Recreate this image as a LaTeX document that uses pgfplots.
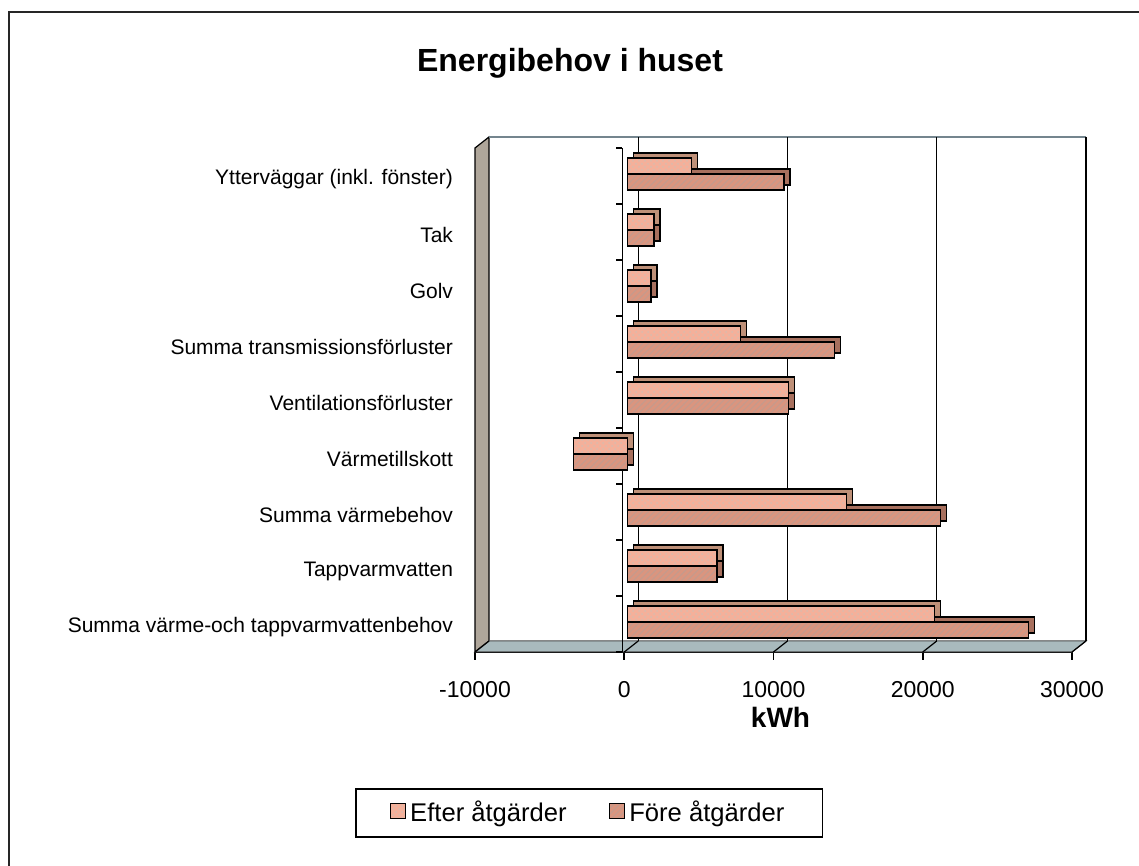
\documentclass[border=0pt]{standalone}
\usepackage{pgfplots}
\pgfplotsset{compat=1.18}
\usetikzlibrary{patterns}
\usepackage{fontspec}
\setmainfont{Liberation Sans}
\definecolor{efterF}{HTML}{F4B09A}
\definecolor{foreF}{HTML}{DA957F}
\definecolor{efterB}{HTML}{BE9078}
\definecolor{foreB}{HTML}{A8705E}
\definecolor{wallC}{HTML}{AFA69A}
\definecolor{floorC}{HTML}{A9BABD}
\pgfplotstableread{
y efter fore
8 4300 10500
7 1800 1800
6 1600 1600
5 7600 13900
4 10800 10800
3 -3600 -3600
2 14700 21000
1 6000 6000
0 20600 26900
}\datatab
\begin{document}
\begin{tikzpicture}
\useasboundingbox (0pt,0pt) rectangle (569.5pt,433pt);
\fill[white] (0pt,0pt) rectangle (569.5pt,433pt);
\draw[line width=1.2pt, black!85] (4.5pt,-2pt) -- (4.5pt,427pt) -- (575pt,427pt);
\node[font=\fontsize{16}{19}\selectfont\bfseries] at (285pt,401.5pt) {Energibehov i huset};
\begin{axis}[
  at={(237.5pt,107pt)}, anchor=south west,
  scale only axis, width=298.5pt, height=252pt,
  xmin=-10000, xmax=30000, ymin=-0.5, ymax=8.5,
  scaled x ticks=false,
  axis x line*=bottom, axis y line*=left,
  x axis line style={-, line width=0.8pt},
  y axis line style={draw=none},
  xtick={-10000,0,10000,20000,30000},
  xticklabels={-10000,0,10000,20000,30000},
  xtick align=outside, major tick length=4pt,
  xtick style={black, line width=0.8pt},
  ytick={0,...,8},
  yticklabels={Summa värme-och tappvarmvattenbehov, Tappvarmvatten, Summa värmebehov, Värmetillskott, Ventilationsförluster, Summa transmissionsförluster, Golv, Tak, Ytterväggar (inkl. fönster)},
  ytick style={draw=none},
  yticklabel style={font=\fontsize{10.5}{12}\selectfont, anchor=east, xshift=-3.5pt, yshift=-1.5pt},
  xticklabel style={font=\fontsize{11.5}{13}\selectfont, yshift=-7pt},
  xlabel={kWh}, xlabel style={font=\fontsize{14}{16}\selectfont\bfseries, xshift=3.5pt, yshift=2pt},
  xbar, bar width=8pt,
  clip=false,
  legend columns=2,
  legend style={at={(0.191,-0.3194)}, anchor=center, draw=black, line width=0.9pt,
    font=\fontsize{12.8}{15}\selectfont, inner xsep=17pt, inner ysep=4pt,
    /tikz/every even column/.append style={column sep=19pt}},
  legend image code/.code={\draw[#1, line width=0.8pt] (0pt,-3.75pt) rectangle (7.5pt,3.75pt);},
]
% walls
\fill[wallC, draw=black, line width=0.6pt] (axis cs:-10000,-0.5) -- (axis cs:-10000,8.5) -- ([xshift=7pt,yshift=5.5pt]axis cs:-10000,8.5) -- ([xshift=7pt,yshift=5.5pt]axis cs:-10000,-0.5) -- cycle;
\fill[floorC, draw=black!70, line width=0.5pt] (axis cs:-10000,-0.5) -- (axis cs:30000,-0.5) -- ([xshift=7pt,yshift=5.5pt]axis cs:30000,-0.5) -- ([xshift=7pt,yshift=5.5pt]axis cs:-10000,-0.5) -- cycle;
% back plane
\draw[black!50!cyan!40!gray, line width=0.7pt] ([xshift=7pt,yshift=5.5pt]axis cs:-10000,8.5) -- ([xshift=7pt,yshift=5.5pt]axis cs:30000,8.5);
\draw[black, line width=0.9pt] ([xshift=7pt,yshift=5.5pt]axis cs:30000,8.5) -- ([xshift=7pt,yshift=5.5pt]axis cs:30000,-0.5);
\pgfplotsinvokeforeach{0,10000,20000}{
  \draw[black, line width=0.6pt] ([xshift=7pt,yshift=5.5pt]axis cs:#1,-0.5) -- ([xshift=7pt,yshift=5.5pt]axis cs:#1,8.5);
}
\pgfplotsinvokeforeach{-10000,0,10000,20000,30000}{
  \draw[black, line width=0.6pt] (axis cs:#1,-0.5) -- ([xshift=7pt,yshift=5.5pt]axis cs:#1,-0.5);
}
% category axis
\draw[black, line width=0.7pt] ([xshift=-1pt]axis cs:0,-0.5) -- ([xshift=-1pt]axis cs:0,8.5);
\pgfplotsinvokeforeach{-0.5,0.5,1.5,2.5,3.5,4.5,5.5,6.5,7.5,8.5}{
  \draw[black, line width=0.7pt] ([xshift=-1pt]axis cs:0,#1) -- ([xshift=-4pt]axis cs:0,#1);
}
% depth faces
\addplot[forget plot, fill=efterB, draw=black, line width=0.7pt, bar shift=4pt, xshift=4.5pt, yshift=3.5pt] table[x=efter,y=y] {\datatab};
\addplot[forget plot, fill=foreB, draw=black, line width=0.7pt, bar shift=-4pt, xshift=4.5pt, yshift=3.5pt] table[x=fore,y=y] {\datatab};
% front faces
\addplot[fill=efterF, draw=black, line width=0.7pt, bar shift=4pt, xshift=1.5pt, yshift=1pt,
  postaction={pattern=crosshatch dots, pattern color=efterB!60}] table[x=efter,y=y] {\datatab};
\addplot[fill=foreF, draw=black, line width=0.7pt, bar shift=-4pt, xshift=1.5pt, yshift=1pt,
  postaction={pattern=north east lines, pattern color=foreB!70}] table[x=fore,y=y] {\datatab};
\legend{Efter åtgärder, Före åtgärder}
\end{axis}
\end{tikzpicture}
\end{document}
